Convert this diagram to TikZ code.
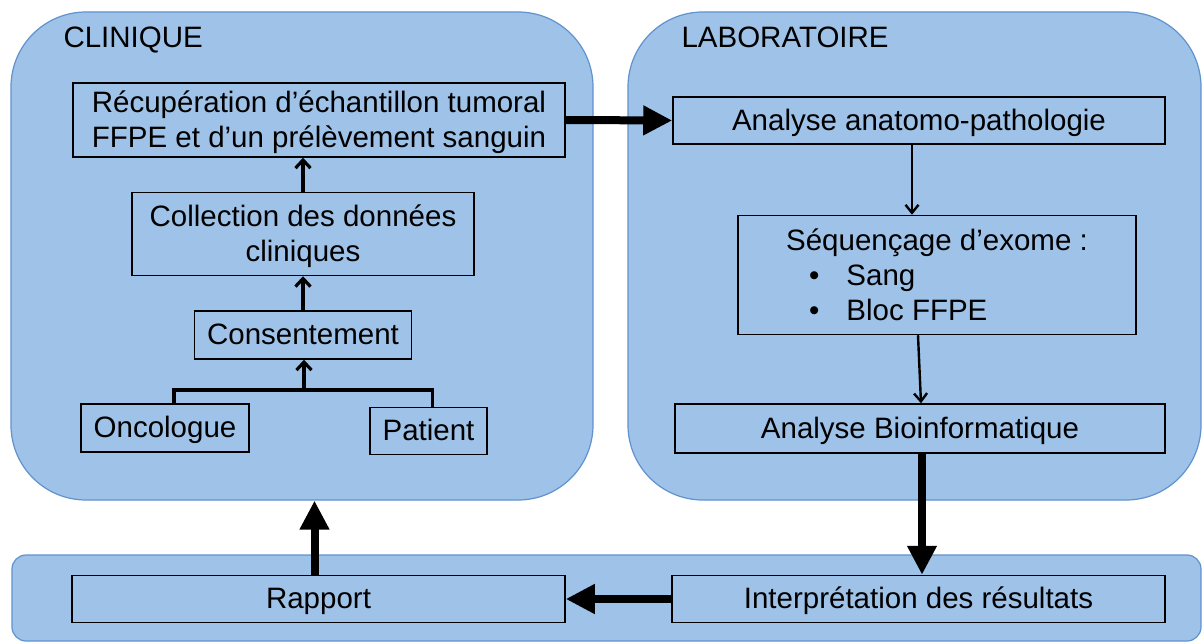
\documentclass[tikz,border=0pt]{standalone}
\usepackage{fontspec}
\setmainfont{Liberation Sans}
\usetikzlibrary{positioning,arrows.meta}
\definecolor{panelblue}{RGB}{158,194,232}
\definecolor{paneledge}{RGB}{96,146,206}

\begin{document}
\begin{tikzpicture}[x=1pt,y=-1pt,font=\fontsize{29.5}{35}\selectfont,
    fat/.style={line width=8pt,-{Triangle[length=29pt,width=28pt]}},
    mid/.style={line width=3.2pt,-{Straight Barb[length=8pt,width=15pt]}},
    slim/.style={line width=2.4pt,-{Straight Barb[length=8pt,width=13pt]}}]
  \tikzstyle{panel}=[draw=paneledge,line width=1.2pt,fill=panelblue,inner sep=0pt]
  \tikzstyle{box}=[draw=black,line width=1.5pt,inner sep=0pt,align=center,text depth=2pt]

  \useasboundingbox (0,0) rectangle (1203,644);

  % Panels
  \node[panel,rounded corners=75pt,minimum width=582pt,minimum height=488pt] (clin) at (302,256) {};
  \node[panel,rounded corners=75pt,minimum width=573pt,minimum height=488pt] (lab) at (914.5,256) {};
  \node[panel,rounded corners=14pt,minimum width=1189pt,minimum height=86pt] (bot) at (606.5,598) {};
  \node[anchor=west] (clintitle) at (60,40) {CLINIQUE};
  \node[anchor=west] (labtitle) at (678,37) {LABORATOIRE};

  % Boxes
  \node[box,minimum width=492pt,minimum height=74pt] (rec) at (319,120)
    {Récupération d’échantillon tumoral\\FFPE et d’un prélèvement sanguin};
  \node[box,minimum width=342pt,minimum height=83pt] (col) [below=34pt of rec,xshift=-16pt]
    {Collection des données\\cliniques};
  \node[box,minimum width=217pt,minimum height=48pt] (con) [below=34pt of col] {Consentement};
  \node[box,minimum width=168pt,minimum height=48pt] (onc) at (165,428) {Oncologue};
  \node[box,minimum width=117pt,minimum height=47pt] (pat) at (428.5,431) {Patient};

  \node[box,minimum width=492pt,minimum height=47pt] (ana) at (919,120.5) {Analyse anatomo-pathologie};
  \node[box,minimum width=398pt,minimum height=119pt,align=left,text depth=] (seq) [below=70pt of ana,xshift=18pt]
    {Séquençage d’exome :\\
     \hspace*{23pt}\textbullet\hspace{27pt}Sang\\
     \hspace*{23pt}\textbullet\hspace{27pt}Bloc FFPE};
  \node[box,minimum width=490pt,minimum height=49pt] (bio) [below=68pt of seq,xshift=-17pt] {Analyse Bioinformatique};

  \node[box,minimum width=493pt,minimum height=47pt] (int) at (918.5,599) {Interprétation des résultats};
  \node[box,minimum width=493pt,minimum height=47pt] (rap) at (318.5,599) {Rapport};

  % Arrows
  \coordinate (join) at (304,390);
  \draw[line width=3.2pt] ([xshift=9pt]onc.north) |- (join) -| ([xshift=4pt]pat.north);
  \draw[mid] (join) -- (join |- con.south);
  \draw[mid] (con.north) -- (con.north |- col.south);
  \draw[mid] (col.north) -- (col.north |- rec.south);

  \draw[fat] (rec.east) -- (ana.west);
  \draw[slim] ([xshift=-7pt]ana.south) -- ([xshift=-7pt]ana.south |- seq.north);
  \draw[slim] ([xshift=-19pt]seq.south) -- ([xshift=1pt]bio.north);
  \draw[fat] ([xshift=2pt]bio.south) -- ([xshift=2pt]bio.south |- int.north);
  \draw[fat] (int.west) -- (int.west -| rap.east);
  \draw[fat] ([xshift=-4pt]rap.north) -- ([xshift=-4pt]rap.north |- clin.south);
\end{tikzpicture}
\end{document}
